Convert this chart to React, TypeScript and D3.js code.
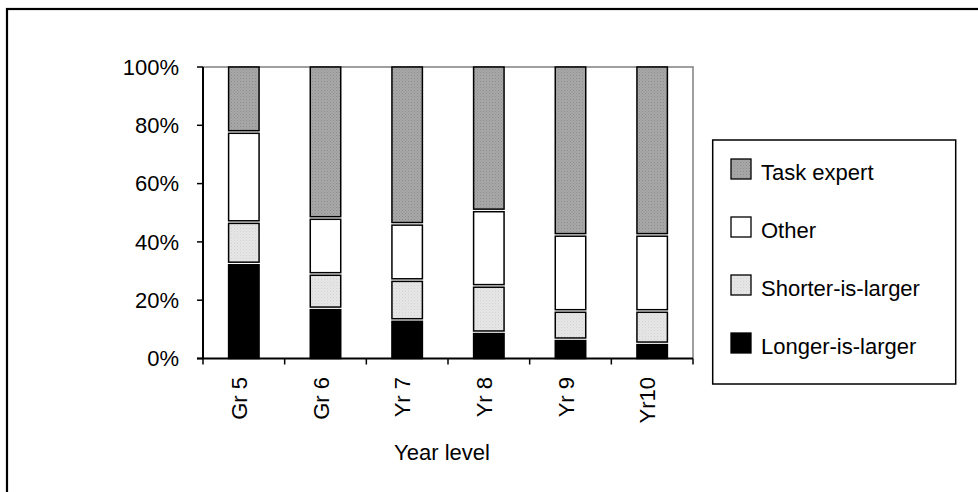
import React from "react";
import * as d3 from "d3";

const categories = ["Gr 5", "Gr 6", "Yr 7", "Yr 8", "Yr 9", "Yr10"];
const longerIsLarger = [32.6, 17.2, 13.2, 9.0, 6.6, 5.2];
const shorterIsLarger = [14.2, 11.8, 13.7, 15.9, 9.7, 11.1];
const other = [30.9, 19.2, 19.3, 25.9, 26.1, 26.1];
const taskExpert = [22.3, 51.8, 53.8, 49.2, 57.6, 57.6];
const yTicks = [0, 20, 40, 60, 80, 100];

const seriesNames = ["Longer-is-larger", "Shorter-is-larger", "Other", "Task expert"];
const seriesValues = [longerIsLarger, shorterIsLarger, other, taskExpert];
const seriesFill = ["#000000", "url(#dotLight)", "#ffffff", "url(#dotDark)"];

const W = 978;
const H = 492;
const PLOT = { left: 203, right: 693, top: 67, bottom: 358.5 };
const FONT = "'Liberation Sans', Arial, sans-serif";

export default function App() {
  const x = d3
    .scaleBand<string>()
    .domain(categories)
    .range([PLOT.left, PLOT.right])
    .paddingInner(0.627)
    .paddingOuter(0.3135);
  const xEdge = d3.scaleLinear().domain([0, categories.length]).range([PLOT.left, PLOT.right]);
  const y = d3.scaleLinear().domain([0, 100]).range([PLOT.bottom, PLOT.top]);

  const rows = categories.map((c, i) => {
    const r: Record<string, number | string> = { cat: c };
    seriesNames.forEach((s, k) => (r[s] = seriesValues[k][i]));
    return r;
  });
  const stack = d3.stack<Record<string, number | string>>().keys(seriesNames)(rows as any);

  // small white gap between stacked segments, like the original
  const gap = 1.3;

  // legend lists the top segment first
  const legendOrder = [3, 2, 1, 0];

  return (
    <svg width={W} height={H} style={{ position: "absolute", left: 0, top: 0, background: "#fff" }} fontFamily={FONT}>
      <defs>
        <pattern id="dotDark" width="3" height="3" patternUnits="userSpaceOnUse">
          <rect width="3" height="3" fill="#a8a8a8" />
          <rect width="1" height="1" fill="#8c8c8c" />
          <rect x="1.5" y="1.5" width="1" height="1" fill="#959595" />
        </pattern>
        <pattern id="dotLight" width="3" height="3" patternUnits="userSpaceOnUse">
          <rect width="3" height="3" fill="#e6e6e6" />
          <rect width="1" height="1" fill="#d2d2d2" />
          <rect x="1.5" y="1.5" width="1" height="1" fill="#dadada" />
        </pattern>
      </defs>

      <rect x={7} y={9} width={1000} height={500} fill="none" stroke="#000" strokeWidth={2.2} />

      <path
        d={`M${PLOT.left},${PLOT.top}H${PLOT.right}V${PLOT.bottom}`}
        fill="none"
        stroke="#808080"
        strokeWidth={1.5}
      />

      {stack.map((layer, k) => (
        <g key={seriesNames[k]}>
          {layer.map((d, i) => {
            const top = y(d[1]) + (d[1] >= 99.9 ? 0 : gap);
            const bot = y(d[0]) - (d[0] <= 0.1 ? 0 : gap);
            return (
              <rect
                key={i}
                x={x(categories[i])!}
                y={top}
                width={x.bandwidth()}
                height={Math.max(0, bot - top)}
                fill={seriesFill[k]}
                stroke="#000"
                strokeWidth={1.5}
              />
            );
          })}
        </g>
      ))}

      <line x1={PLOT.left} x2={PLOT.left} y1={PLOT.top} y2={PLOT.bottom} stroke="#000" strokeWidth={2} />
      {yTicks.map((t) => (
        <g key={t}>
          <line x1={PLOT.left - 6} x2={PLOT.left} y1={y(t)} y2={y(t)} stroke="#000" strokeWidth={1.5} />
          <text x={179} y={y(t)} dy="0.35em" textAnchor="end" fontSize={22} fill="#000">
            {`${t}%`}
          </text>
        </g>
      ))}

      <line x1={PLOT.left - 6} x2={PLOT.right} y1={PLOT.bottom} y2={PLOT.bottom} stroke="#000" strokeWidth={2} />
      {d3.range(categories.length + 1).map((i) => (
        <line
          key={i}
          x1={xEdge(i)}
          x2={xEdge(i)}
          y1={PLOT.bottom}
          y2={PLOT.bottom + 6}
          stroke="#000"
          strokeWidth={1.5}
        />
      ))}
      {categories.map((c) => (
        <text
          key={c}
          transform={`translate(${x(c)! + x.bandwidth() / 2 + 3},377) rotate(-90)`}
          textAnchor="end"
          fontSize={22}
          fill="#000"
        >
          {c}
        </text>
      ))}
      <text x={442} y={460} textAnchor="middle" fontSize={22} fill="#000">
        Year level
      </text>

      <rect x={712.7} y={140} width={243} height={244} fill="#fff" stroke="#000" strokeWidth={1.5} />
      {legendOrder.map((k, j) => (
        <g key={seriesNames[k]} transform={`translate(731,${159 + j * 58})`}>
          <rect x={0} y={0} width={20} height={20} fill={seriesFill[k]} stroke="#000" strokeWidth={1.3} />
          <text x={30} y={21} fontSize={22} fill="#000">
            {seriesNames[k]}
          </text>
        </g>
      ))}
    </svg>
  );
}
